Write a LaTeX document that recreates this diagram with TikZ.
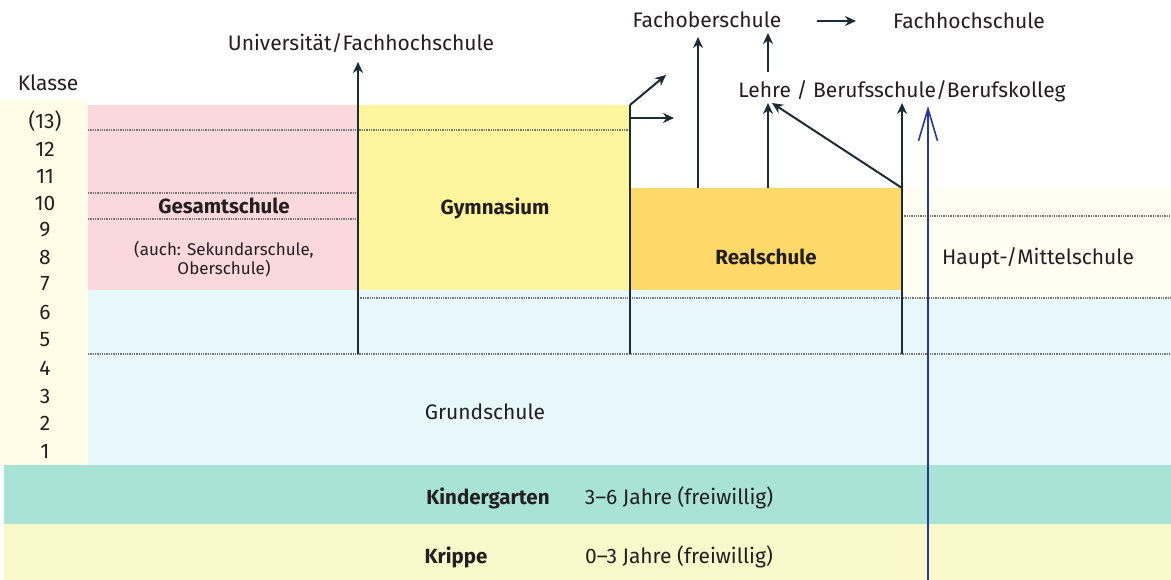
\documentclass[tikz,border=0pt]{standalone}
\usepackage{fontspec}
\setmainfont{Fira Sans}
\usetikzlibrary{arrows.meta}
\definecolor{pinkbg}{HTML}{FAD8DB}
\definecolor{gymyel}{HTML}{FEF59C}
\definecolor{realor}{HTML}{FDD96A}
\definecolor{grundbl}{HTML}{E7F7FB}
\definecolor{kigateal}{HTML}{A8E3D5}
\definecolor{krippebg}{HTML}{F8F8CA}
\definecolor{klassebg}{HTML}{FFFDE8}
\definecolor{hauptbg}{HTML}{FFFEF3}
\definecolor{arrowc}{HTML}{1D2B34}
\definecolor{bluec}{HTML}{2A3894}
\definecolor{textc}{HTML}{231F20}
\tikzset{
  lbl/.style={inner sep=1pt, text=textc, font=\fontsize{21}{24}\selectfont},
  bold/.style={lbl, font=\fontsize{20.5}{24}\selectfont\bfseries},
  small/.style={inner sep=1pt, text=textc, font=\fontsize{17}{19}\selectfont, align=center},
  num/.style={inner sep=1pt, text=textc, font=\fontsize{21}{24}\selectfont},
  ln/.style={draw=arrowc, line width=2pt},
  arr/.style={ln, -{Stealth[length=11pt,width=10pt]}},
  dots/.style={draw=black!55, line width=1.3pt, densely dotted},
  bluearr/.style={draw=bluec, line width=1.6pt, -{Straight Barb[length=32pt,width=19pt,line width=1.6pt]}}
}
\begin{document}
\begin{tikzpicture}[x=1pt,y=-1pt]
\useasboundingbox (0,0) rectangle (1171,580);
\fill[white] (0,0) rectangle (1171,580);
% background bands
\fill[klassebg] (0,100) rectangle (88,465);
\fill[grundbl] (88,290) rectangle (1171,465);
\fill[pinkbg] (88,105) rectangle (358,290);
\fill[gymyel] (358,105) rectangle (630,290);
\fill[realor] (630,188) rectangle (902,290);
\fill[hauptbg] (902,187) rectangle (1171,298);
\fill[kigateal] (4,465) rectangle (1171,524);
\fill[krippebg] (4,524) rectangle (1171,580);
% dotted lines
\draw[dots] (88,130) -- (630,130);
\draw[dots] (88,193) -- (358,193);
\draw[dots] (88,219) -- (358,219);
\draw[dots] (902,216) -- (1171,216);
\draw[dots] (358,298) -- (1171,298);
\draw[dots] (88,354) -- (1171,354);
% labels
\node[lbl] (klasse) at (48,83) {Klasse};
\node[num] (k13) at (45,121) {(13)};
\node[num] (k12) at (45,149) {12};
\node[num] (k11) at (45,176) {11};
\node[num] (k10) at (45,203) {10};
\node[num] (k9) at (45,230) {9};
\node[num] (k8) at (45,257) {8};
\node[num] (k7) at (45,284) {7};
\node[num] (k6) at (45,312) {6};
\node[num] (k5) at (45,340) {5};
\node[num] (k4) at (45,368) {4};
\node[num] (k3) at (45,396) {3};
\node[num] (k2) at (45,423) {2};
\node[num] (k1) at (45,451) {1};
\node[lbl] (uni) at (361,43) {Universität/Fachhochschule};
\node[lbl] (fos) at (707,20) {Fachoberschule};
\node[lbl] (fhs) at (969,21) {Fachhochschule};
\node[lbl] (lehre) at (902,91) {Lehre / Berufsschule/Berufskolleg};
\node[bold] (gesamt) at (224,206) {Gesamtschule};
\node[small] (auch) at (224,259) {(auch: Sekundarschule,\\Oberschule)};
\node[bold] (gym) at (495,208) {Gymnasium};
\node[bold] (real) at (766,257) {Realschule};
\node[lbl] (haupt) at (1038,258) {Haupt-/Mittelschule};
\node[lbl] (grund) at (485,412) {Grundschule};
\node[bold] (kiga) at (488,498) {Kindergarten};
\node[lbl] (kigaj) at (679,498) {3–6 Jahre (freiwillig)};
\node[bold] (krippe) at (456,557) {Krippe};
\node[lbl] (krippej) at (679,557) {0–3 Jahre (freiwillig)};
% coordinates
\coordinate (g0) at (358,354); \coordinate (g1) at (358,62);
\coordinate (r0) at (630,354); \coordinate (r1) at (630,105);
\coordinate (r2) at (630,118); \coordinate (d1) at (666,75);
\coordinate (h1) at (674,118);
\coordinate (f0) at (698,188); \coordinate (f1) at (698,37);
\coordinate (l0) at (768,188); \coordinate (l1) at (768,103);
\coordinate (p0) at (902,188); \coordinate (p1) at (772,103);
\coordinate (m0) at (902,354); \coordinate (m1) at (902,103);
\coordinate (u0) at (768,72); \coordinate (u1) at (768,33);
\coordinate (a0) at (817,21); \coordinate (a1) at (856,21);
\coordinate (b0) at (928,580); \coordinate (b1) at (928,106);
% connectors
\draw[arr] (g0) -- (g1);
\draw[ln] (r0) -- (r1);
\draw[arr] (r1) -- (d1);
\draw[arr] (r2) -- (h1);
\draw[arr] (f0) -- (f1);
\draw[arr] (l0) -- (l1);
\draw[arr] (p0) -- (p1);
\draw[arr] (m0) -- (m1);
\draw[arr] (u0) -- (u1);
\draw[arr] (a0) -- (a1);
\draw[bluearr] (b0) -- (b1);
\end{tikzpicture}
\end{document}
